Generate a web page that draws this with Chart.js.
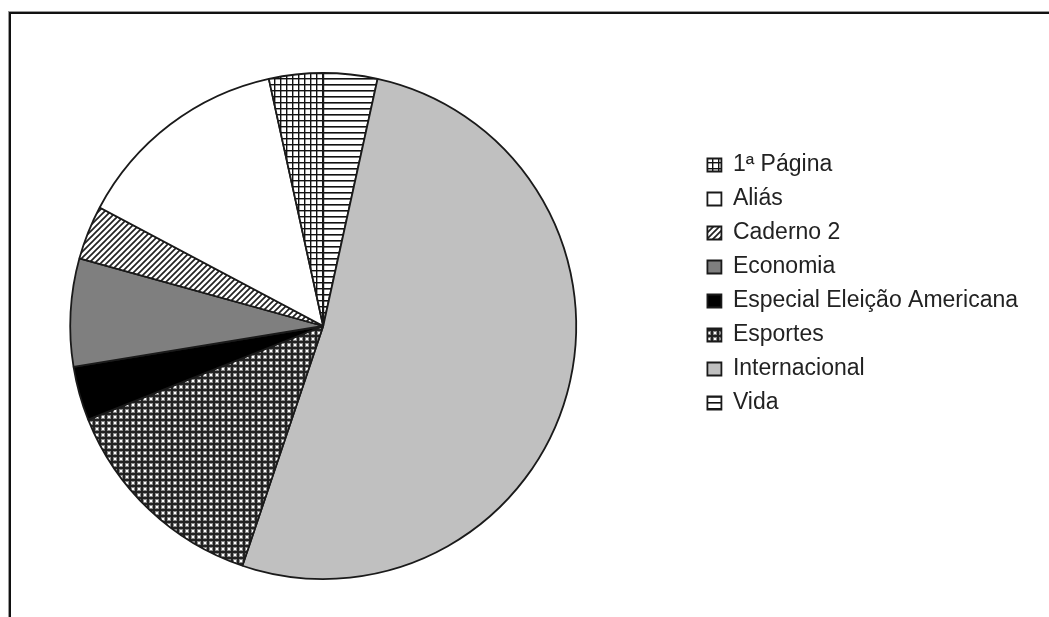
<!DOCTYPE html>
<html lang="pt">
<head>
<meta charset="UTF-8">
<title>Matérias por seção</title>
<script src="https://cdn.jsdelivr.net/npm/chart.js"></script>
<style>
  body { margin: 0; background: #fff; overflow: hidden; }
  #moldura { position: absolute; left: 9px; top: 12px; width: 1040px; height: 605px;
             border-top: 2px solid #111; border-left: 2px solid #111;
             box-shadow: -1px -1px 0 #999; }
  /* o canvas começa 50px à esquerda para a pizza ficar centrada em x=323 */
  canvas { position: absolute; left: -50px; top: 0; }
</style>
</head>
<body>
<div id="moldura"></div>
<canvas id="secoes" width="1099" height="617"></canvas>
<script>
// seções, na ordem da legenda
const secoes = ['1ª Página', 'Aliás', 'Caderno 2', 'Economia', 'Especial Eleição Americana', 'Esportes', 'Internacional', 'Vida'];
// número de matérias em cada seção
const materias = [1, 4, 1, 2, 1, 4, 15, 1];

const ctx = document.getElementById('secoes').getContext('2d');

// pequenas texturas em preto e branco
function textura(tam, desenha) {
    const c = document.createElement('canvas');
    c.width = tam; c.height = tam;
    const g = c.getContext('2d');
    g.fillStyle = '#fff';
    g.fillRect(0, 0, tam, tam);
    desenha(g, tam);
    return ctx.createPattern(c, 'repeat');
}

const grade = textura(6, (g, t) => {
    g.fillStyle = '#111';
    g.fillRect(0, 0, t, 1.4);
    g.fillRect(0, 0, 1.4, t);
});
const listras = textura(6, (g, t) => {
    g.fillStyle = '#111';
    g.fillRect(0, 0, t, 1.6);
});
const diagonal = textura(6, (g, t) => {
    g.strokeStyle = '#222';
    g.lineWidth = 1.7;
    g.beginPath();
    g.moveTo(-1, t + 1); g.lineTo(t + 1, -1);
    g.moveTo(-1, 1); g.lineTo(1, -1);
    g.moveTo(t - 1, t + 1); g.lineTo(t + 1, t - 1);
    g.stroke();
});
const xadrez = textura(6, (g, t) => {
    g.fillStyle = '#222';
    g.fillRect(0, 0, t, t);
    g.fillStyle = '#888';
    g.fillRect(1, 1, 4, 4);
    g.fillStyle = '#fff';
    g.fillRect(2, 2, 2, 2);
});

const cores = [grade, '#fff', diagonal, '#7f7f7f', '#000', xadrez, '#c0c0c0', listras];

// a pizza começa no topo e segue no sentido horário a partir de "Vida"
new Chart(ctx, {
    type: 'pie',
    data: {
        labels: secoes.slice().reverse(),
        datasets: [{
            data: materias.slice().reverse(),
            backgroundColor: cores.slice().reverse(),
            borderColor: '#1a1a1a',
            borderWidth: 1.8
        }]
    },
    options: {
        responsive: false,
        animation: false,
        events: [],
        radius: 253,
        layout: {
            padding: { left: 0, top: 73, bottom: 38, right: 21 }
        },
        plugins: {
            tooltip: { enabled: false },
            legend: {
                position: 'right',
                align: 'start',
                reverse: true,
                title: {
                    display: true,
                    text: ' ',
                    font: { size: 10 },
                    padding: { top: 57.5, bottom: 0 }
                },
                labels: {
                    boxWidth: 14,
                    boxHeight: 13,
                    padding: 11,
                    color: '#222',
                    font: { family: '"Liberation Sans", Arial, sans-serif', size: 23 }
                }
            }
        }
    }
});
</script>
</body>
</html>
